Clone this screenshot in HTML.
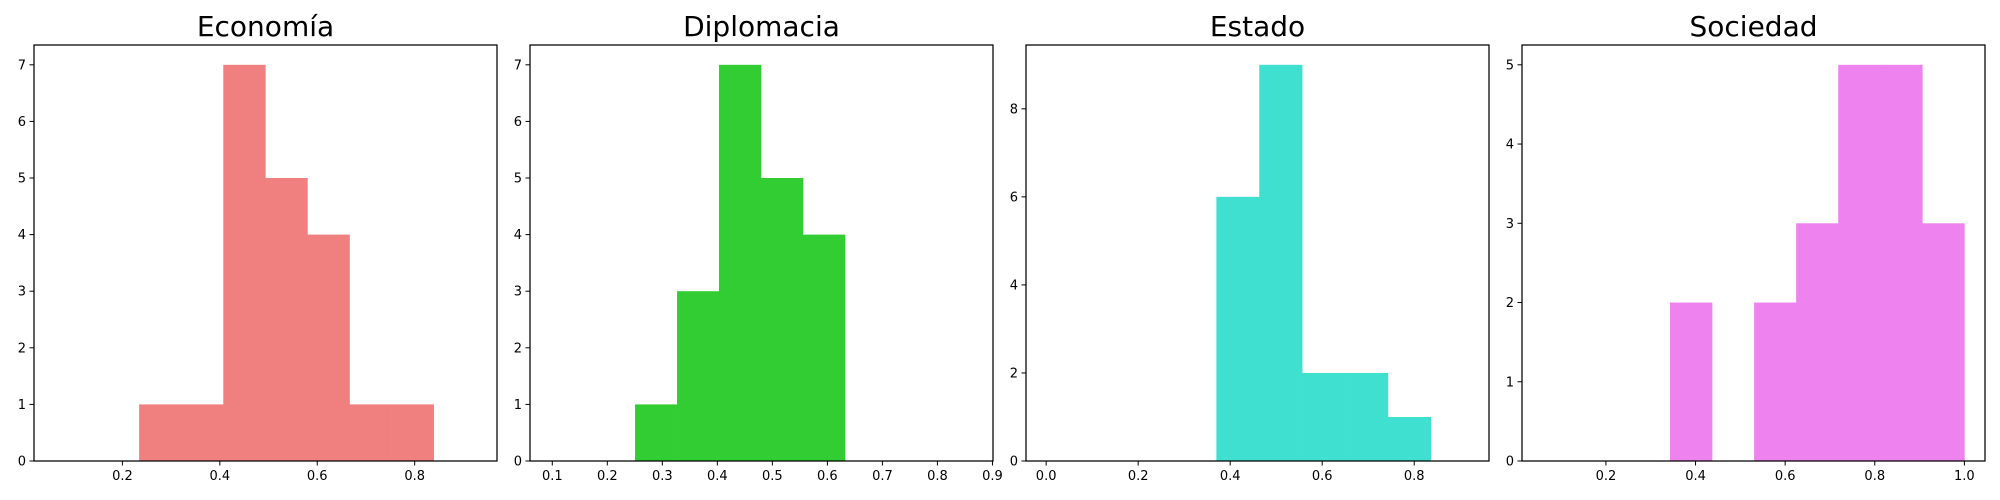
<!DOCTYPE html>
<html><head><meta charset="utf-8"><style>
html,body{margin:0;padding:0;background:#fff;}
svg{display:block;font-family:"DejaVu Sans","Liberation Sans",sans-serif;}
</style></head><body>
<svg id="chart" width="2000" height="500" viewBox="0 0 2000 500" xmlns="http://www.w3.org/2000/svg"></svg>
<script>
const titles = ["Economía", "Diplomacia", "Estado", "Sociedad"];
const colors = ["#F08080", "#32CD32", "#40E0D0", "#EE82EE"];
const binStarts = [0.2343, 0.2504, 0.370, 0.343];
const binEnds = [0.839, 0.632, 0.836, 1.0];
const countsEconomia = [1, 1, 7, 5, 4, 1, 1];
const countsDiplomacia = [1, 3, 7, 5, 4];
const countsEstado = [6, 9, 2, 2, 1];
const countsSociedad = [2, 0, 2, 3, 5, 5, 3];
const xLims = [[0.0185, 0.969], [0.0595, 0.901], [-0.0438, 0.9625], [0.0127, 1.046]];
const yMaxes = [7.35, 7.35, 9.45, 5.25];
const xTicks = [[0.2, 0.4, 0.6, 0.8], [0.1, 0.2, 0.3, 0.4, 0.5, 0.6, 0.7, 0.8, 0.9], [0.0, 0.2, 0.4, 0.6, 0.8], [0.2, 0.4, 0.6, 0.8, 1.0]];
const yTicks = [[0, 1, 2, 3, 4, 5, 6, 7], [0, 1, 2, 3, 4, 5, 6, 7], [0, 2, 4, 6, 8], [0, 1, 2, 3, 4, 5]];
const allCounts = [countsEconomia, countsDiplomacia, countsEstado, countsSociedad];

const NS = "http://www.w3.org/2000/svg";
const svg = document.getElementById("chart");
const left0 = [34, 530, 1026, 1522];
const W = 463, TOP = 45, BOT = 461;
function mk(tag, attrs, parent) {
  const e = document.createElementNS(NS, tag);
  for (const k in attrs) e.setAttribute(k, attrs[k]);
  parent.appendChild(e);
  return e;
}
for (let p = 0; p < 4; p++) {
  const L = left0[p], R = L + W;
  const xs = v => L + (v - xLims[p][0]) / (xLims[p][1] - xLims[p][0]) * W;
  const ys = v => BOT - v / yMaxes[p] * (BOT - TOP);
  const g = mk("g", {}, svg);
  
  
  const counts = allCounts[p];
  const bw = (binEnds[p] - binStarts[p]) / counts.length;
  counts.forEach((c, i) => {
    if (c <= 0) return;
    const x0 = xs(binStarts[p] + i * bw), x1 = xs(binStarts[p] + (i + 1) * bw);
    const r = mk("rect", {x: x0, y: ys(c), width: x1 - x0 + 0.3, height: BOT - ys(c), fill: colors[p]}, g);
    
    
  });
  const fr = mk("rect", {x: L, y: TOP, width: W, height: BOT - TOP, fill: "none", stroke: "#000", "stroke-width": 1.25}, g);
  
  
  xTicks[p].forEach(t => {
    const x = xs(t);
    mk("line", {x1: x, x2: x, y1: BOT, y2: BOT + 4.5, stroke: "#000", "stroke-width": 1}, g);
    const tx = mk("text", {x: x, y: BOT + 19, "font-size": 13, "text-anchor": "middle", fill: "#000"}, g);
    tx.textContent = t.toFixed(1);
    
    
  });
  yTicks[p].forEach(t => {
    const y = ys(t);
    mk("line", {x1: L - 4.5, x2: L, y1: y, y2: y, stroke: "#000", "stroke-width": 1}, g);
    const tx = mk("text", {x: L - 8, y: y + 4.5, "font-size": 13, "text-anchor": "end", fill: "#000"}, g);
    tx.textContent = String(t);
    
    
  });
  const tt = mk("text", {x: L + W / 2, y: 36, "font-size": 28, "text-anchor": "middle", fill: "#000"}, g);
  tt.textContent = titles[p];
  
  
}
</script>
</body></html>
